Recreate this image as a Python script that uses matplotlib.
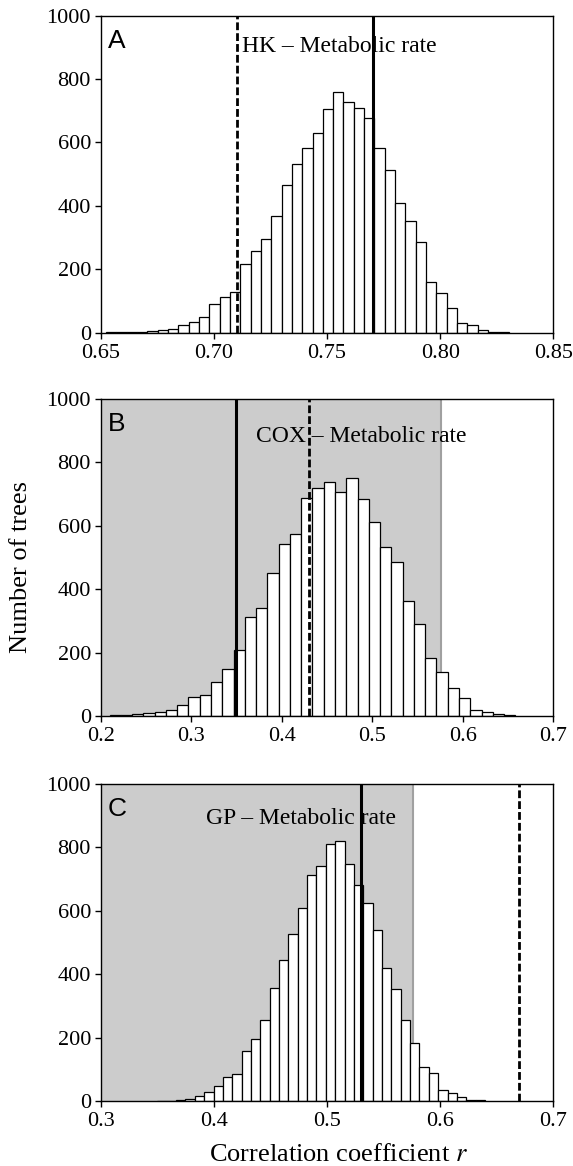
import numpy as np
import matplotlib
matplotlib.use("Agg")
from matplotlib import pyplot as plt

plt.rcParams["font.family"] = ["Liberation Serif", "DejaVu Serif"]
plt.rcParams["mathtext.fontset"] = "stix"

# panel A: HK - Metabolic rate
a_start, a_width = 0.6524, 0.00456
a_counts = [3, 1, 1, 2, 5, 7, 10, 24, 35, 50, 90, 114, 128, 217, 256, 297,
            369, 465, 531, 581, 630, 706, 759, 727, 710, 676, 583, 514, 408,
            353, 285, 159, 126, 79, 32, 25, 9, 3, 2]
a_solid, a_dashed, a_grey = 0.7705, 0.7102, None

# panel B: COX - Metabolic rate
b_start, b_width = 0.2098, 0.01245
b_counts = [3, 3, 7, 9, 14, 20, 35, 61, 66, 108, 148, 208, 313, 341, 450, 544,
            573, 689, 720, 737, 707, 751, 686, 613, 532, 486, 364, 291, 184,
            138, 88, 58, 20, 12, 5, 4]
b_solid, b_dashed, b_grey = 0.35, 0.43, 0.5763

# panel C: GP - Metabolic rate
c_start, c_width = 0.35007, 0.008273
c_counts = [1, 1, 4, 8, 16, 30, 46, 76, 84, 158, 197, 255, 358, 444, 527, 609,
            713, 742, 811, 820, 748, 683, 626, 539, 419, 352, 256, 183, 108, 90,
            35, 24, 13, 3, 2]
c_solid, c_dashed, c_grey = 0.530, 0.6697, 0.5757

panels = [
    ("A", "HK \u2013 Metabolic rate", a_start, a_width, a_counts, a_solid, a_dashed, a_grey,
     (0.65, 0.85), [0.65, 0.70, 0.75, 0.80, 0.85], "%.2f", (0.7125, 902)),
    ("B", "COX \u2013 Metabolic rate", b_start, b_width, b_counts, b_solid, b_dashed, b_grey,
     (0.2, 0.7), [0.2, 0.3, 0.4, 0.5, 0.6, 0.7], "%.1f", (0.3716, 881)),
    ("C", "GP \u2013 Metabolic rate", c_start, c_width, c_counts, c_solid, c_dashed, c_grey,
     (0.3, 0.7), [0.3, 0.4, 0.5, 0.6, 0.7], "%.1f", (0.3934, 891)),
]

fig = plt.figure(figsize=(5.73, 11.66), dpi=100)
bottoms = [0.7147, 0.3859, 0.0557]

for (letter, title, start, width, counts, solid, dashed, grey,
     xlim, xticks, fmt, tpos), bottom in zip(panels, bottoms):
    ax = fig.add_axes([0.1757, bottom, 0.790, 0.2719])
    edges = start + width * np.arange(len(counts))
    if grey is not None:
        ax.axvspan(xlim[0], grey, color="#cccccc", lw=0, zorder=0)
        ax.axvline(grey, color="#a0a0a0", lw=1.5, zorder=1)
    ax.bar(edges, counts, width=width, align="edge", color="white",
           edgecolor="black", lw=0.9, zorder=2)
    ax.axvline(solid, color="black", lw=2.2, zorder=3)
    ax.axvline(dashed, color="black", lw=2.0, ls=(0, (2.8, 1.1)), zorder=3)
    ax.text(tpos[0], tpos[1], title, fontsize=17, va="center", ha="left", zorder=4)
    ax.text(0.016, 0.92, letter, transform=ax.transAxes, fontsize=19,
            family="Liberation Sans", va="center", ha="left", zorder=4)
    ax.set_xlim(*xlim)
    ax.set_ylim(0, 1000)
    ax.set_xticks(xticks)
    ax.set_xticklabels([fmt % t for t in xticks])
    ax.set_yticks([0, 200, 400, 600, 800, 1000])
    ax.tick_params(direction="out", length=4, width=1, labelsize=16,
                   top=False, right=False)
    ax.tick_params(axis="x", pad=4)
    ax.tick_params(axis="y", pad=3)
    for s in ax.spines.values():
        s.set_linewidth(1.0)

fig.text(0.036, 0.514, "Number of trees", rotation=90, fontsize=19,
         ha="center", va="center")
fig.text(0.590, 0.0094, "Correlation coefficient $r$", fontsize=19,
         ha="center", va="center")

fig.savefig("out.png", dpi=100)
plt.close("all")
